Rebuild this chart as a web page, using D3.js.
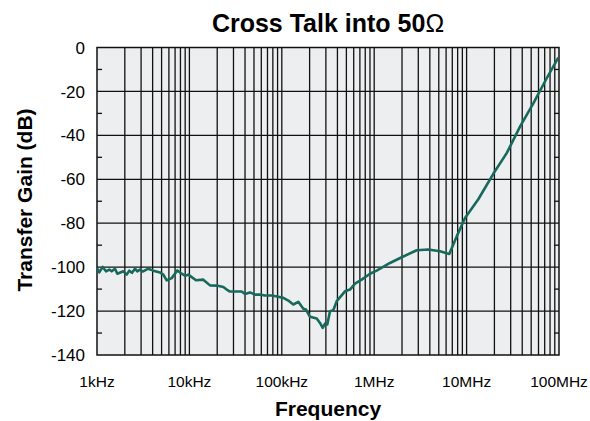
<!DOCTYPE html>
<html lang="en">
<head>
<meta charset="utf-8">
<title>Cross Talk into 50 ohm</title>
<script src="https://cdn.jsdelivr.net/npm/d3@7"></script>
<style>
    body { margin: 0; background: #fff; font-family: 'Liberation Sans', Arial, sans-serif; }
</style>
</head>
<body>
<svg id="chart"></svg>
<script>
// frequency in Hz, gain in dB
var freqs = [1000, 1059, 1152, 1252, 1359, 1442, 1566, 1659, 1926, 2097, 2236, 2392, 2578, 2730, 2920, 3123,
    3592, 4068, 4806, 5219, 5679, 6435, 7396, 8255, 8961, 9730, 11790, 14140, 16710, 19750, 23280, 25330,
    27510, 36810, 39980, 45270, 51290, 58080, 65800, 77740, 91650, 103800, 117600, 133200, 150900, 170900,
    182800, 202000, 238700, 259100, 277100, 293400, 310700, 332400, 360900, 392900, 483100, 547100, 619700,
    732000, 900600, 1064000, 1483000, 1985000, 2884000, 3850000, 5153000, 6497000, 7815000, 9610000,
    13390000, 19450000, 27160000, 37850000, 52720000, 73610000, 98260000];
var gains = [-100.4, -102.4, -99.9, -101.9, -101.1, -101.9, -100.7, -103, -101.9, -103.4, -101.6, -102.6, -100.7, -101.9, -101.1, -102,
    -100.7, -101.6, -102.4, -103.4, -106, -105, -101.5, -103, -103.9, -103.4, -106, -105.7, -108.3, -108.4, -109, -110.2,
    -111.1, -111.1, -112.2, -111.5, -112.5, -112.5, -112.9, -112.9, -113.5, -114, -115.2, -117, -115.8, -118.9,
    -119.3, -122.6, -123.4, -125.4, -127.6, -125.7, -126.1, -120.1, -119.6, -115.5, -111, -110.2, -107.5,
    -105.7, -103, -101.6, -98.1, -95.5, -92.3, -92, -92.8, -94, -86, -77.6,
    -69.1, -57.5, -48.1, -36, -25.4, -14, -4.6];

var yTicks = [0, -20, -40, -60, -80, -100, -120, -140];
var yMinor = [-10, -30, -50, -70, -90, -110, -130];
var xTicks = [1e3, 1e4, 1e5, 1e6, 1e7, 1e8];
var xTickLabels = ["1kHz", "10kHz", "100kHz", "1MHz", "10MHz", "100MHz"];

var width = 590, height = 421;
var margin = {top: 47.5, right: 31, bottom: 66, left: 97};
var w = width - margin.left - margin.right;
var h = height - margin.top - margin.bottom;

var svg = d3.select("#chart").attr("width", width).attr("height", height);

var x = d3.scaleLog().domain([1e3, 1e8]).range([0, w]);
var y = d3.scaleLinear().domain([-140, 0]).range([h, 0]);

var g = svg.append("g").attr("transform", "translate(" + margin.left + "," + margin.top + ")");

g.append("rect").attr("width", w).attr("height", h).attr("fill", "#edeef0");

// vertical grid: every 1..9 in each decade
var xGrid = [];
for (var d = 1e3; d < 1e8; d *= 10) {
    for (var k = 2; k <= 9; k++) xGrid.push(d * k);
}
for (var i = 1; i < xTicks.length - 1; i++) xGrid.push(xTicks[i]);

g.selectAll(".vgrid").data(xGrid).enter().append("line")
    .attr("x1", function(d) { return x(d); }).attr("x2", function(d) { return x(d); })
    .attr("y1", 0).attr("y2", h)
    .attr("stroke", "#111").attr("stroke-width", 1.3);

g.selectAll(".hgrid").data(yTicks.slice(1, -1)).enter().append("line")
    .attr("x1", 0).attr("x2", w)
    .attr("y1", function(d) { return y(d); }).attr("y2", function(d) { return y(d); })
    .attr("stroke", "#111").attr("stroke-width", 1.3);

// minor ticks on both sides
g.selectAll(".mtl").data(yMinor).enter().append("line")
    .attr("x1", 0).attr("x2", 5)
    .attr("y1", function(d) { return y(d); }).attr("y2", function(d) { return y(d); })
    .attr("stroke", "#111").attr("stroke-width", 1.3);
g.selectAll(".mtr").data(yMinor).enter().append("line")
    .attr("x1", w - 5).attr("x2", w)
    .attr("y1", function(d) { return y(d); }).attr("y2", function(d) { return y(d); })
    .attr("stroke", "#111").attr("stroke-width", 1.3);

g.append("rect").attr("width", w).attr("height", h)
    .attr("fill", "none").attr("stroke", "#111").attr("stroke-width", 1.5);

// data line
var line = d3.line()
    .x(function(d, i) { return x(freqs[i]); })
    .y(function(d) { return y(d); });

g.append("path").datum(gains)
    .attr("d", line)
    .attr("fill", "none")
    .attr("stroke", "#17695c")
    .attr("stroke-width", 2.6)
    .attr("stroke-linejoin", "round");

// axis labels
g.selectAll(".ylab").data(yTicks).enter().append("text")
    .attr("x", -12).attr("y", function(d) { return y(d); })
    .attr("dy", "0.36em")
    .attr("text-anchor", "end")
    .attr("font-size", 17)
    .text(function(d) { return d; });

g.selectAll(".xlab").data(xTicks).enter().append("text")
    .attr("x", function(d) { return x(d); })
    .attr("y", h + 32)
    .attr("text-anchor", "middle")
    .attr("font-size", 15.5)
    .text(function(d, i) { return xTickLabels[i]; });

svg.append("text")
    .attr("x", margin.left + w / 2).attr("y", 416)
    .attr("text-anchor", "middle")
    .attr("font-size", 21).attr("font-weight", "bold")
    .text("Frequency");

svg.append("text")
    .attr("transform", "translate(32," + 200 + ") rotate(-90)")
    .attr("text-anchor", "middle")
    .attr("font-size", 21).attr("font-weight", "bold")
    .text("Transfer Gain (dB)");

var title = svg.append("text")
    .attr("x", margin.left + w / 2).attr("y", 32)
    .attr("text-anchor", "middle")
    .attr("font-size", 25).attr("font-weight", "bold");
title.append("tspan").text("Cross Talk into 50");
title.append("tspan").attr("font-weight", "normal").text("Ω");
</script>
</body>
</html>
